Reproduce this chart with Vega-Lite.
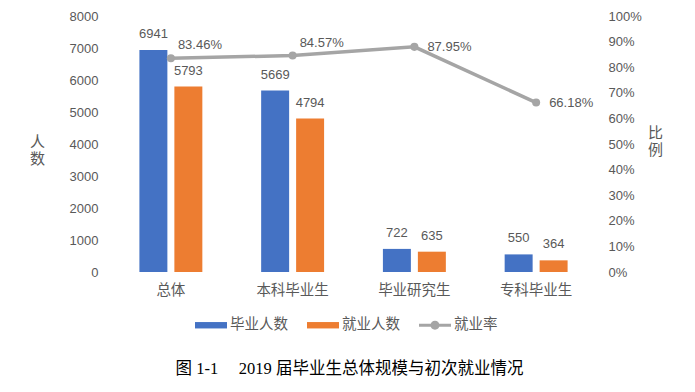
{
  "$schema": "https://vega.github.io/schema/vega-lite/v6.json",
  "width": 487,
  "height": 256,
  "autosize": {"type": "none"},
  "padding": {"left": 110, "top": 16, "right": 98, "bottom": 120},
  "background": "white",
  "config": {"view": {"stroke": null}, "font": "Liberation Sans, Noto Sans CJK SC"},
  "title": {
    "text": "图 1-1\u3000 2019 届毕业生总体规模与初次就业情况",
    "orient": "bottom",
    "frame": "group",
    "anchor": "middle",
    "offset": 61,
    "dx": -4,
    "dy": -32,
    "font": "Liberation Serif, Noto Sans CJK SC",
    "fontSize": 16.5,
    "fontWeight": "normal",
    "color": "#000000"
  },
  "data": {
    "values": [
      {"category": "总体", "毕业人数": 6941, "就业人数": 5793, "rate": 0.8346},
      {"category": "本科毕业生", "毕业人数": 5669, "就业人数": 4794, "rate": 0.8457},
      {"category": "毕业研究生", "毕业人数": 722, "就业人数": 635, "rate": 0.8795},
      {"category": "专科毕业生", "毕业人数": 550, "就业人数": 364, "rate": 0.6618}
    ]
  },
  "encoding": {
    "x": {
      "field": "category",
      "type": "nominal",
      "sort": null,
      "scale": {"paddingInner": 0.483, "paddingOuter": 0.2415},
      "axis": {
        "title": null,
        "labelAngle": 0,
        "labelFont": "Noto Sans CJK SC",
        "labelFontSize": 14.5,
        "labelColor": "#595959",
        "labelPadding": 11,
        "ticks": false,
        "domain": false,
        "grid": false
      }
    }
  },
  "layer": [
    {
      "transform": [{"fold": ["毕业人数", "就业人数"], "as": ["series", "count"]}],
      "encoding": {
        "xOffset": {
          "field": "series",
          "type": "nominal",
          "sort": ["毕业人数", "就业人数"],
          "scale": {"paddingInner": 0.2, "paddingOuter": 0}
        },
        "y": {
          "field": "count",
          "type": "quantitative",
          "scale": {"domain": [0, 8000]},
          "axis": {
            "orient": "left",
            "values": [0, 1000, 2000, 3000, 4000, 5000, 6000, 7000, 8000],
            "format": "d",
            "grid": false,
            "ticks": false,
            "domain": false,
            "labelFontSize": 13,
            "labelColor": "#595959",
            "labelPadding": 12,
            "title": ["人", "数"],
            "titleFont": "Noto Sans CJK SC",
            "titleFontSize": 15,
            "titleFontWeight": "normal",
            "titleColor": "#595959",
            "titleAngle": 0,
            "titleAlign": "center",
            "titleBaseline": "top",
            "titleLineHeight": 17,
            "titleX": -73,
            "titleY": 118
          }
        }
      },
      "layer": [
        {
          "mark": {"type": "bar"},
          "encoding": {
            "color": {
              "field": "series",
              "type": "nominal",
              "scale": {
                "domain": ["毕业人数", "就业人数", "就业率"],
                "range": ["#4472C4", "#ED7D31", "#A5A5A5"]
              },
              "legend": {
                "orient": "none",
                "legendX": 85,
                "legendY": 293,
                "direction": "horizontal",
                "title": null,
                "symbolSize": 1024,
                "symbolType": "M-1,-0.2H1V0.2H-1Z",
                "symbolStrokeWidth": 0,
                "labelFont": "Noto Sans CJK SC",
                "labelFontSize": 14.5,
                "labelColor": "#595959",
                "labelOffset": 3,
                "columnPadding": 19,
                "encode": {
                  "symbols": {
                    "update": {
                      "shape": {
                        "signal": "datum.value === '就业率' ? 'M-1,-0.1H1V0.1H-1Z M-0.28,0A0.28,0.28 0 1,1 0.28,0A0.28,0.28 0 1,1 -0.28,0Z' : 'M-1,-0.2H1V0.2H-1Z'"
                      }
                    }
                  }
                }
              }
            }
          }
        },
        {
          "mark": {
            "type": "text",
            "baseline": "alphabetic",
            "dy": -12,
            "fontSize": 13,
            "color": "#595959"
          },
          "encoding": {"text": {"field": "count", "type": "quantitative"}}
        }
      ]
    },
    {
      "encoding": {
        "y": {
          "field": "rate",
          "type": "quantitative",
          "scale": {"domain": [0, 1]},
          "axis": {
            "orient": "right",
            "values": [0, 0.1, 0.2, 0.3, 0.4, 0.5, 0.6, 0.7, 0.8, 0.9, 1],
            "format": ".0%",
            "grid": false,
            "ticks": false,
            "domain": false,
            "labelFontSize": 13,
            "labelColor": "#595959",
            "labelPadding": 11,
            "title": ["比", "例"],
            "titleFont": "Noto Sans CJK SC",
            "titleFontSize": 15,
            "titleFontWeight": "normal",
            "titleColor": "#595959",
            "titleAngle": 0,
            "titleAlign": "center",
            "titleBaseline": "top",
            "titleLineHeight": 17,
            "titleX": 58,
            "titleY": 109
          }
        }
      },
      "layer": [
        {"mark": {"type": "line", "color": "#A5A5A5", "strokeWidth": 3.5}},
        {"mark": {"type": "point", "filled": true, "color": "#A5A5A5", "size": 65, "opacity": 1}},
        {
          "transform": [{"filter": "datum.category === '总体' || datum.category === '本科毕业生'"}],
          "mark": {
            "type": "text",
            "align": "left",
            "baseline": "alphabetic",
            "dx": 7,
            "dy": -9,
            "fontSize": 13,
            "color": "#595959"
          },
          "encoding": {"text": {"field": "rate", "type": "quantitative", "format": ".2%"}}
        },
        {
          "transform": [{"filter": "datum.category === '毕业研究生' || datum.category === '专科毕业生'"}],
          "mark": {
            "type": "text",
            "align": "left",
            "baseline": "middle",
            "dx": 13,
            "fontSize": 13,
            "color": "#595959"
          },
          "encoding": {"text": {"field": "rate", "type": "quantitative", "format": ".2%"}}
        }
      ]
    }
  ],
  "resolve": {"scale": {"y": "independent"}}
}
